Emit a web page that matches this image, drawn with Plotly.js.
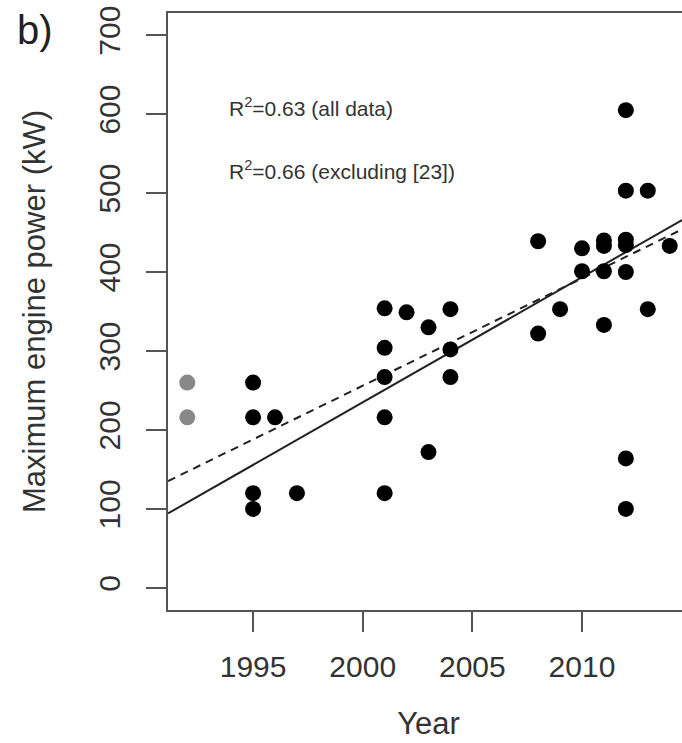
<!DOCTYPE html>
<html>
<head>
<meta charset="utf-8">
<script src="https://cdn.plot.ly/plotly-3.0.1.min.js"></script>
<style>
  html, body { margin: 0; padding: 0; background: #ffffff; overflow: hidden; }
  #chart { width: 700px; height: 743px; }
</style>
</head>
<body>
<div id="chart"></div>
<script>
// Data
const blackYears = [
  1995, 1995, 1995, 1995,
  1996,
  1997,
  2001, 2001, 2001, 2001, 2001,
  2002,
  2003, 2003,
  2004, 2004, 2004,
  2008, 2008,
  2009,
  2010, 2010,
  2011, 2011, 2011, 2011,
  2012, 2012, 2012, 2012, 2012, 2012, 2012,
  2013, 2013,
  2014
];
const blackPower = [
  260, 216, 120, 100,
  216,
  120,
  354, 304, 267, 216, 120,
  349,
  330, 172,
  353, 302, 267,
  439, 322,
  353,
  430, 401,
  440, 433, 401, 333,
  605, 503, 441, 434, 400, 164, 100,
  503, 353,
  433
];
const grayYears = [1992, 1992];
const grayPower = [260, 216];

// Regression lines: [value at year 2000, slope per year]
const fitAllData = [256, 13.6];      // dashed
const fitExcluding = [235, 15.85];   // solid

const xRange = [1991.12, 2014.88];
const yRange = [-28, 728];
const xTicks = [1995, 2000, 2005, 2010];
const yTicks = [0, 100, 200, 300, 400, 500, 600, 700];

const annotationTexts = ['R<sup>2</sup>=0.63 (all data)', 'R<sup>2</sup>=0.66 (excluding [23])'];
const panelLabel = 'b)';

function lineY(coef, years) {
  return years.map(function (yr) { return coef[0] + coef[1] * (yr - 2000); });
}

const traces = [
  {
    x: xRange, y: lineY(fitAllData, xRange),
    type: 'scatter', mode: 'lines',
    line: { color: '#222222', width: 2, dash: '8px,6px' },
    hoverinfo: 'skip', showlegend: false
  },
  {
    x: xRange, y: lineY(fitExcluding, xRange),
    type: 'scatter', mode: 'lines',
    line: { color: '#222222', width: 2 },
    hoverinfo: 'skip', showlegend: false
  },
  {
    x: grayYears, y: grayPower,
    type: 'scatter', mode: 'markers',
    marker: { color: '#888888', size: 16, line: { width: 0 } },
    showlegend: false
  },
  {
    x: blackYears, y: blackPower,
    type: 'scatter', mode: 'markers',
    marker: { color: '#000000', size: 16, line: { width: 0 } },
    showlegend: false
  }
];

const axisCommon = {
  showline: true, mirror: true, linecolor: '#555555', linewidth: 2,
  ticks: 'outside', ticklen: 20, tickwidth: 2, tickcolor: '#555555',
  showgrid: false, zeroline: false,
  tickfont: { family: 'Liberation Sans, Arial, sans-serif', size: 30, color: '#333333' }
};

const layout = {
  width: 700, height: 743,
  margin: { l: 168, r: 11, t: 13, b: 133 },
  paper_bgcolor: '#ffffff', plot_bgcolor: '#ffffff',
  showlegend: false,
  xaxis: Object.assign({}, axisCommon, {
    range: xRange, tickvals: xTicks, ticktext: xTicks.map(String),
    ticklabelstandoff: 9,
    title: { text: 'Year', font: { family: 'Liberation Sans, Arial, sans-serif', size: 31, color: '#333333' }, standoff: 30 }
  }),
  yaxis: Object.assign({}, axisCommon, {
    range: yRange, tickvals: yTicks, ticktext: yTicks.map(String),
    tickangle: -90,
    ticklabelstandoff: 14,
    title: { text: 'Maximum engine power (kW)', font: { family: 'Liberation Sans, Arial, sans-serif', size: 31, color: '#333333' }, standoff: 38 }
  }),
  annotations: [
    {
      text: annotationTexts[0], xref: 'paper', yref: 'paper',
      x: 0.113, y: 0.843, xanchor: 'left', yanchor: 'middle', showarrow: false,
      font: { family: 'Liberation Sans, Arial, sans-serif', size: 21, color: '#333333' }
    },
    {
      text: annotationTexts[1], xref: 'paper', yref: 'paper',
      x: 0.113, y: 0.737, xanchor: 'left', yanchor: 'middle', showarrow: false,
      font: { family: 'Liberation Sans, Arial, sans-serif', size: 21, color: '#333333' }
    },
    {
      text: panelLabel, xref: 'paper', yref: 'paper',
      x: -0.255, y: 0.972, xanchor: 'center', yanchor: 'middle', showarrow: false,
      font: { family: 'Liberation Sans, Arial, sans-serif', size: 40, color: '#222222' }
    }
  ]
};

Plotly.newPlot('chart', traces, layout, { staticPlot: true, displayModeBar: false });
</script>
</body>
</html>
